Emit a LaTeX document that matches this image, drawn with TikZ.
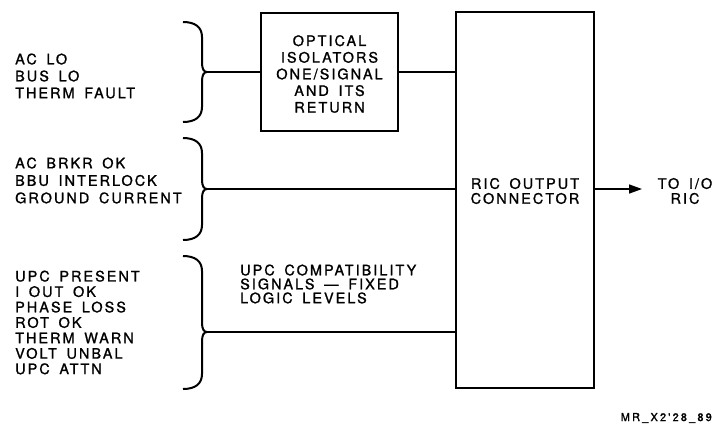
\documentclass[tikz,border=0pt]{standalone}
\usepackage{fontspec}
\setmainfont{TeX Gyre Heros}[LetterSpace=14, FakeBold=1.2, WordSpace=1.6]
\newfontfamily\creditfont{TeX Gyre Heros}[LetterSpace=20, FakeBold=1.5]
\usetikzlibrary{arrows.meta}
\newcommand\mybrace[4]{% top, tip, bottom, name
  \draw[bracestyle] (183,#1) .. controls (195,#1) and (202,{#1+5}) .. (202,{#1+15})
    -- (202,{#2-9}) .. controls (202,{#2-3}) and (204,#2) .. (207,#2)
    .. controls (204,#2) and (202,{#2+3}) .. (202,{#2+9})
    -- (202,{#3-15}) .. controls (202,{#3-5}) and (195,#3) .. (183,#3);
  \coordinate (#4) at (207,#2);}
\tikzset{
  boxstyle/.style={draw, line width=2.4bp, inner sep=0pt},
  bracestyle/.style={line width=2bp},
  wire/.style={line width=1.5bp},
  lbl/.style={inner sep=0pt, align=left, anchor=west},
  ctext/.style={inner sep=0pt, align=center},
}
\begin{document}
\begin{tikzpicture}[x=1bp, y=-1bp, font=\fontsize{14.5}{17}\selectfont]
\useasboundingbox (0,0) rectangle (714,425);
% boxes
\node[boxstyle, minimum width=137bp, minimum height=118bp] (opt) at (329.5,72) {};
\node[ctext, font=\fontsize{14.5}{16.7}\selectfont] (opttxt) at (329.5,74) {OPTICAL\\ISOLATORS\\ONE/SIGNAL\\AND ITS\\RETURN};
\node[boxstyle, minimum width=138bp, minimum height=376bp] (ric) at (525,200) {};
\node[ctext, font=\fontsize{14.5}{15}\selectfont] (rictxt) at (525,191) {RIC OUTPUT\\CONNECTOR};
% left labels
\node[lbl] (g1) at (15,76) {AC LO\\BUS LO\\THERM FAULT};
\node[lbl, font=\fontsize{14.5}{17.5}\selectfont] (g2) at (15,180.5) {AC BRKR OK\\BBU INTERLOCK\\GROUND CURRENT};
\node[lbl, font=\fontsize{14.5}{15.5}\selectfont] (g3) at (15,322.5) {UPC PRESENT\\I OUT OK\\PHASE LOSS\\ROT OK\\THERM WARN\\VOLT UNBAL\\UPC ATTN};
\node[lbl, font=\fontsize{14.5}{14}\selectfont] (upc) at (240,284) {UPC COMPATIBILITY\\SIGNALS --- FIXED\\LOGIC LEVELS};
% braces
\mybrace{22}{72}{122}{t1}
\mybrace{138}{189}{240}{t2}
\mybrace{256}{332}{389}{t3}
% wires
\draw[wire] (t1) -- (t1 -| opt.west);
\draw[wire] (opt.east) -- (opt.east -| ric.west);
\draw[wire] (t2) -- (t2 -| ric.west);
\draw[wire] (t3) -- (t3 -| ric.west);
% output
\node[ctext, font=\fontsize{14.5}{15}\selectfont] (toio) at (685,191) {TO I/O\\RIC};
\coordinate (aend) at (642,189);
\draw[wire, -{Triangle[length=13bp, width=9bp]}] (t2 -| ric.east) -- (aend);
% credit
\node[inner sep=0pt, anchor=east, font=\fontsize{11}{12}\creditfont] (credit) at (712,418) {MR\_X2'28\_89};
\end{tikzpicture}
\end{document}
